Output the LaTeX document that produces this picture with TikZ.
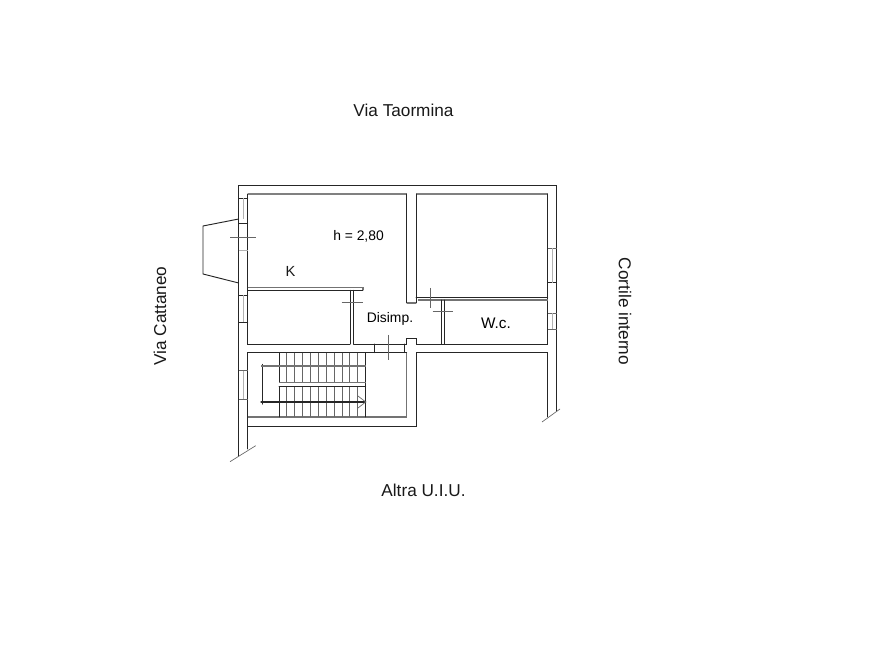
\documentclass[tikz,border=0pt]{standalone}
\usepackage{fontspec}
\setmainfont{Liberation Sans}
\tikzset{
  wall/.style={draw=black!85,line width=0.7pt,line cap=round,line join=miter},
  soft/.style={draw=black!55,line width=0.8pt},
  topwall/.style={draw=black!50,line width=1.1pt},
  thin/.style={draw=black!60,line width=0.5pt},
  faint/.style={draw=black!30,line width=0.5pt},
  tread/.style={draw=black!60,line width=0.7pt},
  big/.style={font=\fontsize{12.9pt}{14pt}\selectfont,text=black!90,inner sep=0pt},
  small/.style={font=\fontsize{10.4pt}{12pt}\selectfont,text=black,inner sep=0pt},
}
\begin{document}
\begin{tikzpicture}[x=0.75pt,y=-0.75pt]
\useasboundingbox[fill=white] (0,0) rectangle (893,670);
% outer walls
\draw[wall] (238.7,456) -- (238.7,185) -- (556.5,185) -- (556.5,411);
\draw[wall] (547.7,417) -- (547.7,352.7) -- (416.5,352.7) -- (416.5,426.7) -- (247.5,426.7) -- (247.5,352.7) -- (406.7,352.7);
\draw[wall] (247.5,426.7) -- (247.5,449);
% break lines
\draw[thin] (230,461.7) -- (255.7,445.7);
\draw[thin] (542,422) -- (560,409);
% kitchen
\draw[topwall] (247.7,194) -- (406.7,194);
\draw[wall] (247.7,194) -- (247.7,344) -- (350,344);
\draw[wall] (406.7,194) -- (406.7,303);
\draw[soft] (406.7,303) -- (416,303);
% right room
\draw[topwall] (416,194) -- (547.7,194);
\draw[wall] (416,194) -- (416,303);
\draw[wall] (547.7,194) -- (547.7,344) -- (416.7,344) -- (416.7,338.7) -- (406.7,338.7) -- (406.7,344) -- (353.5,344);
\draw[wall] (416,297) -- (547.7,297);
\draw[soft] (418,300) -- (547.7,300);
% kitchen partition
\draw[soft] (247.7,287.7) -- (363,287.7) -- (363,290.3);
\draw[wall] (247.7,290.3) -- (363,290.3);
\draw[wall] (350,290.3) -- (350,344);
\draw[wall] (353.5,290.3) -- (353.5,344);
% wc partition
\draw[wall] (441.3,300) -- (441.3,344);
\draw[wall] (444.3,300) -- (444.3,344);
% stairs landing wall
\draw[soft] (406.7,352.7) -- (406.7,417) -- (247.5,417);
% windows left
\draw[wall] (238.7,198) -- (247.7,198);
\draw[wall] (238.7,223) -- (247.7,223);
\draw[faint] (243,198) -- (243,219);
\draw[wall] (238.7,295) -- (247.7,295);
\draw[wall] (238.7,322) -- (247.7,322);
\draw[faint] (243,295) -- (243,322);
\draw[thin] (238.7,370.7) -- (247.5,370.7);
\draw[thin] (238.7,399) -- (247.5,399);
\draw[faint] (243,370.7) -- (243,399);
% bay
\draw[wall] (238.7,219) -- (203,226) -- (203,274) -- (238.7,283);
% windows right
\draw[thin] (547.7,248) -- (556.5,248);
\draw[wall] (547.7,282.7) -- (556.5,282.7);
\draw[faint] (552,248) -- (552,282.7);
\draw[thin] (547.7,313) -- (556.5,313);
\draw[thin] (547.7,329) -- (556.5,329);
\draw[faint] (552,313) -- (552,329);
% door marks
\draw[thin] (230,237) -- (256,237);
\draw[faint] (238.7,250.7) -- (247.7,250.7);
\draw[thin] (341.7,302.7) -- (362.7,302.7);
\draw[thin] (430,288) -- (430,308);
\draw[thin] (432.7,311) -- (453,311);
\draw[wall] (374.3,344) -- (374.3,352.7);
\draw[wall] (404,344) -- (404,352.7);
\draw[thin] (388.7,335) -- (388.7,360);
% stairs
\foreach \k in {0,...,11}{
  \draw[tread] ({279+\k*7.88},352.7) -- ({279+\k*7.88},417);
}
\draw[wall] (279,352.7) -- (279,417);
\draw[wall] (365.7,352.7) -- (365.7,417);
\fill[white] (279.4,382.6) rectangle (365.3,386.4);
\draw[soft] (279,382.3) -- (365.7,382.3);
\draw[wall] (279,386.7) -- (365.7,386.7);
\draw[wall,line width=0.9pt] (262.3,364.5) -- (262.3,404);
\draw[soft] (261,366) -- (365.7,366);
\draw[wall,line width=0.9pt] (261,402) -- (365.7,402);
\draw[thin] (358,396) -- (365.7,402) -- (358,408);
% labels
\node[big] (taormina) at (403.5,110) {Via Taormina};
\node[big] (altra) at (423.5,490) {Altra U.I.U.};
\node[big,rotate=90] (cattaneo) at (160,316) {Via Cattaneo};
\node[big,rotate=-90] (cortile) at (625,311.5) {Cortile interno};
\node[small] (hval) at (358.5,236) {h = 2,80};
\node[big,font=\fontsize{11pt}{12pt}\selectfont] (kit) at (290.5,271) {K};
\node[small] (disimp) at (390,318.5) {Disimp.};
\node[small,font=\fontsize{11.5pt}{13pt}\selectfont] (wc) at (496,323.5) {W.c.};
\end{tikzpicture}
\end{document}
